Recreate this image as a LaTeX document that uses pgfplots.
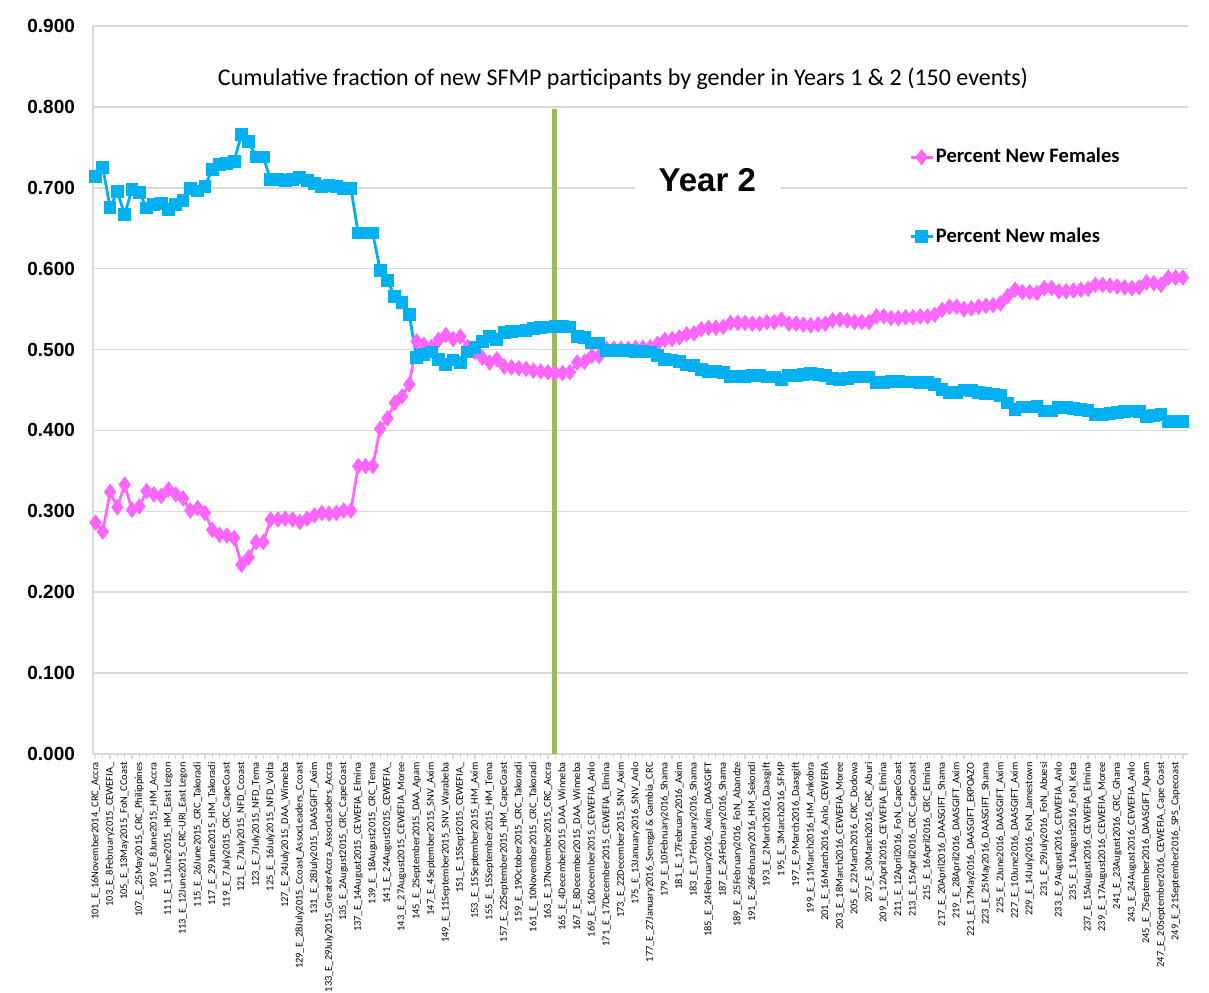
\documentclass[border=0pt]{standalone}
\usepackage{fontspec}
\setmainfont{Liberation Sans}
\newfontfamily\calibri{Carlito}
\usepackage{pgfplots}
\usepackage{pgfplotstable}
\pgfplotsset{compat=1.18}

\definecolor{femalepink}{HTML}{FF66FF}
\definecolor{maleblue}{HTML}{00B0F0}
\definecolor{yeargreen}{HTML}{9BBB59}
\definecolor{gridgray}{HTML}{D9D9D9}

% event  males  females (cumulative fraction)
\pgfplotstableread{
ev male female
1 0.714 0.286
2 0.725 0.275
3 0.676 0.324
4 0.695 0.305
5 0.667 0.333
6 0.698 0.302
7 0.694 0.306
8 0.675 0.325
9 0.679 0.321
10 0.681 0.319
11 0.673 0.327
12 0.679 0.321
13 0.684 0.316
14 0.699 0.301
15 0.696 0.304
16 0.702 0.298
17 0.723 0.277
18 0.729 0.271
19 0.730 0.270
20 0.733 0.267
21 0.766 0.234
22 0.757 0.243
23 0.738 0.262
24 0.738 0.262
25 0.710 0.290
26 0.710 0.290
27 0.709 0.291
28 0.710 0.290
29 0.713 0.287
30 0.709 0.291
31 0.705 0.295
32 0.702 0.298
33 0.703 0.297
34 0.702 0.298
35 0.699 0.301
36 0.699 0.301
37 0.644 0.356
38 0.644 0.356
39 0.644 0.356
40 0.598 0.402
41 0.585 0.415
42 0.566 0.434
43 0.558 0.442
44 0.543 0.457
45 0.490 0.510
46 0.494 0.506
47 0.497 0.503
48 0.488 0.512
49 0.482 0.518
50 0.487 0.513
51 0.484 0.516
52 0.497 0.503
53 0.503 0.497
54 0.510 0.490
55 0.516 0.484
56 0.512 0.488
57 0.521 0.479
58 0.522 0.478
59 0.523 0.477
60 0.524 0.476
61 0.526 0.474
62 0.527 0.473
63 0.528 0.472
64 0.529 0.471
65 0.529 0.471
66 0.528 0.472
67 0.516 0.484
68 0.515 0.485
69 0.508 0.492
70 0.508 0.492
71 0.499 0.501
72 0.499 0.501
73 0.499 0.501
74 0.499 0.501
75 0.498 0.502
76 0.498 0.502
77 0.497 0.503
78 0.493 0.507
79 0.488 0.512
80 0.487 0.513
81 0.485 0.515
82 0.481 0.519
83 0.480 0.520
84 0.475 0.525
85 0.473 0.527
86 0.473 0.527
87 0.472 0.528
88 0.467 0.533
89 0.467 0.533
90 0.467 0.533
91 0.468 0.532
92 0.468 0.532
93 0.466 0.534
94 0.466 0.534
95 0.463 0.537
96 0.468 0.532
97 0.468 0.532
98 0.469 0.531
99 0.470 0.530
100 0.469 0.531
101 0.468 0.532
102 0.464 0.536
103 0.463 0.537
104 0.464 0.536
105 0.466 0.534
106 0.466 0.534
107 0.466 0.534
108 0.459 0.541
109 0.459 0.541
110 0.461 0.539
111 0.461 0.539
112 0.460 0.540
113 0.460 0.540
114 0.459 0.541
115 0.459 0.541
116 0.457 0.543
117 0.451 0.549
118 0.447 0.553
119 0.447 0.553
120 0.450 0.550
121 0.449 0.551
122 0.447 0.553
123 0.446 0.554
124 0.445 0.555
125 0.443 0.557
126 0.434 0.566
127 0.426 0.574
128 0.429 0.571
129 0.429 0.571
130 0.430 0.570
131 0.424 0.576
132 0.424 0.576
133 0.428 0.572
134 0.428 0.572
135 0.427 0.573
136 0.426 0.574
137 0.425 0.575
138 0.420 0.580
139 0.420 0.580
140 0.421 0.579
141 0.422 0.578
142 0.423 0.577
143 0.424 0.576
144 0.423 0.577
145 0.417 0.583
146 0.418 0.582
147 0.420 0.580
148 0.411 0.589
149 0.411 0.589
150 0.411 0.589
}\events

\begin{document}
\begin{tikzpicture}
\begin{axis}[
    scale only axis,
    width=547.5pt, height=364pt,
    xmin=0.66, xmax=150.7,
    ymin=0, ymax=0.9,
    axis x line*=bottom, axis y line*=left,
    axis line style={draw=gridgray, line width=0.75pt, -},
    ytick={0,0.1,0.2,0.3,0.4,0.5,0.6,0.7,0.8,0.9},
    ymajorgrids,
    major grid style={gridgray, line width=0.75pt},
    ytick style={draw=none},
    yticklabel style={font=\bfseries\fontsize{9.5}{11}\selectfont, xshift=-3pt,
        /pgf/number format/.cd, fixed, fixed zerofill, precision=3,
        assume math mode=true},
    xtick={1,3,...,149},
    minor xtick={2,4,...,150},
    tick align=outside,
    major tick length=2.5pt, minor tick length=2.5pt,
    x tick style={gridgray, line width=0.6pt},
    xticklabel style={rotate=90, anchor=east, inner sep=1.5pt,
        font=\calibri\fontsize{5.2}{6}\selectfont},
    xticklabels={
        101\_E\_16November2014\_CRC\_Accra,
        103\_E\_8February2015\_CEWEFIA\_,
        105\_E\_13May2015\_FoN\_CCoast,
        107\_E\_25May2015\_CRC\_Philippines,
        109\_E\_8June2015\_HM\_Accra,
        111\_E\_11June2015\_HM\_East Legon,
        113\_E\_12June2015\_CRC-URI\_East Legon,
        115\_E\_26June2015\_CRC\_Takoradi,
        117\_E\_29June2015\_HM\_Takoradi,
        119\_E\_7July2015\_CRC\_CapeCoast,
        121\_E\_7July2015\_NFD\_Ccoast,
        123\_E\_7July2015\_NFD\_Tema,
        125\_E\_16July2015\_NFD\_Volta,
        127\_E\_24July2015\_DAA\_Winneba,
        129\_E\_28July2015\_Ccoast\_AssocLeaders\_Ccoast,
        131\_E\_28July2015\_DAASGIFT\_Axim,
        133\_E\_29July2015\_GreaterAccra\_AssocLeaders\_Accra,
        135\_E\_2August2015\_CRC\_CapeCoast,
        137\_E\_14August2015\_CEWEFIA\_Elmina,
        139\_E\_18August2015\_CRC\_Tema,
        141\_E\_24August2015\_CEWEFIA\_,
        143\_E\_27August2015\_CEWEFIA\_Moree,
        145\_E\_2September2015\_DAA\_Apam,
        147\_E\_4September2015\_SNV\_Axim,
        149\_E\_11September2015\_SNV\_Warabeba,
        151\_E\_15Sept2015\_CEWEFIA\_,
        153\_E\_15September2015\_HM\_Axim,
        155\_E\_15September2015\_HM\_Tema,
        157\_E\_22September2015\_HM\_CapeCoast,
        159\_E\_19October2015\_CRC\_Takoradi,
        161\_E\_10November2015\_CRC\_Takoradi,
        163\_E\_17November2015\_CRC\_Accra,
        165\_E\_4December2015\_DAA\_Winneba,
        167\_E\_8December2015\_DAA\_Winneba,
        169\_E\_16December2015\_CEWEFIA\_Anlo,
        171\_E\_17December2015\_CEWEFIA\_Elmina,
        173\_E\_22December2015\_SNV\_Axim,
        175\_E\_13January2016\_SNV\_Anlo,
        177\_E\_27January2016\_Senegal \& Gambia\_CRC,
        179\_E\_10February2016\_Shama,
        181\_E\_17February2016\_Axim,
        183\_E\_17February2016\_Shama,
        185\_E\_24February2016\_Axim\_DAASGIFT,
        187\_E\_24February2016\_Shama,
        189\_E\_25February2016\_FoN\_Abandze,
        191\_E\_26February2016\_HM\_Sekondi,
        193\_E\_2March2016\_Daasgift,
        195\_E\_3March2016\_SFMP,
        197\_E\_9March2016\_Daasgift,
        199\_E\_11March2016\_HM\_Ankobra,
        201\_E\_16March2016\_Anlo\_CEWEFIA,
        203\_E\_18March2016\_CEWEFIA\_Moree,
        205\_E\_22March2016\_CRC\_Dodowa,
        207\_E\_30March2016\_CRC\_Aburi,
        209\_E\_12April2016\_CEWEFIA\_Elmina,
        211\_E\_12April2016\_FoN\_CapeCoast,
        213\_E\_15April2016\_CRC\_CapeCoast,
        215\_E\_16April2016\_CRC\_Elmina,
        217\_E\_20April2016\_DAASGIFT\_Shama,
        219\_E\_28April2016\_DAASGIFT\_Axim,
        221\_E\_17May2016\_DAASGIFT\_EKPOAZO,
        223\_E\_25May2016\_DAASGIFT\_Shama,
        225\_E\_2June2016\_DAASGIFT\_Axim,
        227\_E\_10June2016\_DAASGIFT\_Axim,
        229\_E\_14July2016\_FoN\_Jamestown,
        231\_E\_29July2016\_FoN\_Abuesi,
        233\_E\_9August2016\_CEWEFIA\_Anlo,
        235\_E\_11August2016\_FoN\_Keta,
        237\_E\_15August2016\_CEWEFIA\_Elmina,
        239\_E\_17August2016\_CEWEFIA\_Moree,
        241\_E\_23August2016\_CRC\_Ghana,
        243\_E\_24August2016\_CEWEFIA\_Anlo,
        245\_E\_7September2016\_DAASGIFT\_Apam,
        247\_E\_20September2016\_CEWEFIA\_Cape Coast,
        249\_E\_21September2016\_SPS\_Capecoast},
    legend image code/.code={
        \draw[mark repeat=2, mark phase=2, #1]
            plot coordinates {(0pt,0pt) (5.5pt,0pt) (11pt,0pt)};},
    legend style={at={(0.745,0.835)}, anchor=north west, draw=none, fill=none,
        font=\calibri\bfseries\fontsize{10.3}{12}\selectfont,
        row sep=29pt, inner sep=0pt,
        nodes={inner sep=1pt}},
    legend cell align=left,
]
\addplot[color=femalepink, line width=1.4pt, mark=diamond*, mark size=3pt]
    table[x=ev, y=female] {\events};
\addlegendentry{Percent New Females}
\addplot[color=maleblue, line width=1.4pt, mark=square*, mark size=2.5pt]
    table[x=ev, y=male] {\events};
\addlegendentry{Percent New males}
\addplot[draw=yeargreen, line width=2.5pt, forget plot]
    coordinates {(63.9,0) (63.9,0.798)};

\node[font=\calibri\fontsize{12}{14}\selectfont]
    at (rel axis cs:0.484,0.927)
    {Cumulative fraction of new SFMP participants by gender in Years 1 \& 2 (150 events)};
\node[fill=white, inner xsep=12pt, inner ysep=6pt,
      font=\bfseries\fontsize{16.5}{19}\selectfont]
    at (rel axis cs:0.561,0.788) {Year 2};
\coordinate (O) at (rel axis cs:0,0);
\end{axis}
\pgfresetboundingbox
\path (O) ++(-46.5pt,-119pt) rectangle ++(604.5pt,496pt);
\end{tikzpicture}
\end{document}
